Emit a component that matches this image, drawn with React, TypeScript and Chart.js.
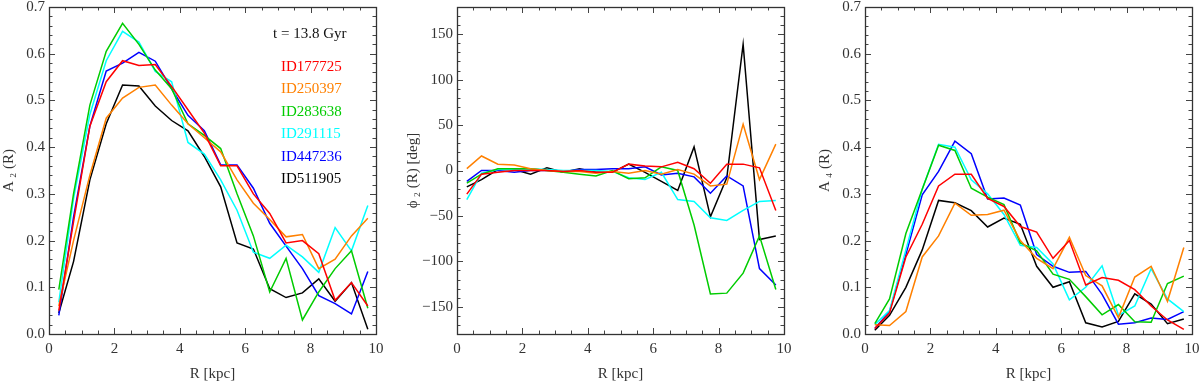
import React, { useEffect, useRef } from 'react';
import { Chart, registerables } from 'chart.js';

Chart.register(...registerables);

// ---------- data ----------
const radii = [0.3, 0.75, 1.25, 1.75, 2.25, 2.75, 3.25, 3.75, 4.25, 4.75, 5.25, 5.75, 6.25, 6.75, 7.25, 7.75, 8.25, 8.75, 9.25, 9.75];

const seriesLabels = ['ID177725', 'ID250397', 'ID283638', 'ID291115', 'ID447236', 'ID511905'];
const seriesColors = ['#ff0000', '#ff8000', '#00cc00', '#00ffff', '#0000ff', '#000000'];
const timeLabel = 't = 13.8 Gyr';

// A2(R)
const a2_177725 = [0.05, 0.24, 0.445, 0.54, 0.585, 0.575, 0.577, 0.53, 0.48, 0.43, 0.36, 0.36, 0.30, 0.258, 0.195, 0.20, 0.172, 0.072, 0.11, 0.06];
const a2_250397 = [0.06, 0.2, 0.34, 0.462, 0.505, 0.528, 0.533, 0.49, 0.45, 0.42, 0.39, 0.33, 0.28, 0.245, 0.208, 0.213, 0.14, 0.16, 0.21, 0.248];
const a2_283638 = [0.095, 0.3, 0.49, 0.605, 0.665, 0.62, 0.565, 0.525, 0.45, 0.425, 0.397, 0.30, 0.21, 0.09, 0.162, 0.03, 0.09, 0.14, 0.178, 0.055];
const a2_291115 = [0.068, 0.29, 0.47, 0.585, 0.648, 0.625, 0.562, 0.54, 0.41, 0.385, 0.33, 0.265, 0.175, 0.162, 0.19, 0.165, 0.132, 0.228, 0.178, 0.275];
const a2_447236 = [0.04, 0.25, 0.445, 0.563, 0.58, 0.603, 0.584, 0.525, 0.468, 0.435, 0.362, 0.362, 0.312, 0.237, 0.188, 0.14, 0.082, 0.065, 0.043, 0.134];
const a2_511905 = [0.045, 0.155, 0.33, 0.45, 0.533, 0.531, 0.488, 0.457, 0.435, 0.38, 0.315, 0.195, 0.182, 0.097, 0.078, 0.088, 0.118, 0.07, 0.11, 0.01];

// phi2(R) [deg]
const phi_177725 = [-26, -4, -2, 0, 0, 0, -1, 0, -2, -2, 7, 5, 4, 9, 2, -14, 7, 7, 3, -44];
const phi_250397 = [2, 16, 7, 6, 2, 0, -1, -1, -3, -1, -3, 0, -4, 1, -4, -17, -15, 51, -10, 29];
const phi_283638 = [-14, -4, 2, 2, 2, 0, -2, -4, -6, 0, -9, -8, 4, 0, -60, -136, -135, -113, -72, -131];
const phi_291115 = [-32, -3, 1, 1, 2, 1, 0, 0, 0, -1, -8, -10, -2, -32, -34, -52, -55, -44, -34, -33];
const phi_447236 = [-12, 0, 0, -2, 0, 0, -1, 1, 1, 2, 2, 4, -5, -3, -7, -25, -6, -17, -108, -126];
const phi_511905 = [-18, -10, 1, 1, -4, 3, -2, 2, -2, -2, 7, -2, -12, -22, 26, -51, -8, 139, -76, -72];

// A4(R)
const a4_177725 = [0.012, 0.045, 0.165, 0.235, 0.317, 0.342, 0.342, 0.29, 0.273, 0.23, 0.218, 0.162, 0.2, 0.105, 0.121, 0.115, 0.095, 0.06, 0.03, 0.01];
const a4_250397 = [0.02, 0.018, 0.048, 0.165, 0.21, 0.28, 0.254, 0.256, 0.265, 0.2, 0.162, 0.14, 0.207, 0.125, 0.103, 0.035, 0.122, 0.145, 0.07, 0.185];
const a4_283638 = [0.022, 0.075, 0.215, 0.31, 0.404, 0.393, 0.312, 0.293, 0.277, 0.195, 0.178, 0.128, 0.117, 0.08, 0.041, 0.063, 0.026, 0.025, 0.108, 0.124];
const a4_291115 = [0.02, 0.05, 0.18, 0.31, 0.406, 0.4, 0.33, 0.3, 0.256, 0.19, 0.185, 0.15, 0.073, 0.1, 0.146, 0.04, 0.06, 0.14, 0.075, 0.048];
const a4_447236 = [0.012, 0.048, 0.17, 0.298, 0.348, 0.413, 0.386, 0.289, 0.291, 0.276, 0.17, 0.145, 0.132, 0.134, 0.085, 0.021, 0.024, 0.034, 0.031, 0.048];
const a4_511905 = [0.008, 0.04, 0.1, 0.18, 0.286, 0.281, 0.264, 0.229, 0.248, 0.235, 0.145, 0.1, 0.112, 0.024, 0.015, 0.027, 0.086, 0.064, 0.022, 0.032];

// ticks
const xTickValues = [0, 2, 4, 6, 8, 10];
const aTickValues = [0, 0.1, 0.2, 0.3, 0.4, 0.5, 0.6, 0.7];
const phiTickValues = [-150, -100, -50, 0, 50, 100, 150];

const FONT = '"Liberation Serif", "Times New Roman", serif';

type PanelSpec = {
  series: number[][];
  yTitle: string;
  yMin: number;
  yMax: number;
  yTicks: number[];
  yFormat: (v: number) => string;
  yMinorStep: number;
  yMajorStep: number;
  leftWidth: number;
  rightPad: number;
  yTitlePad: number;
  legend: boolean;
};

const fmtA = (v: number) => v.toFixed(1);
const fmtPhi = (v: number) => (v < 0 ? '\u2212' + Math.abs(v) : String(v));

const panels: PanelSpec[] = [
  {
    series: [a2_177725, a2_250397, a2_283638, a2_291115, a2_447236, a2_511905],
    yTitle: 'A\u2009\u2082 (R)', yMin: 0, yMax: 0.7, yTicks: aTickValues, yFormat: fmtA,
    yMinorStep: 0.02, yMajorStep: 0.1, leftWidth: 49, rightPad: 24, yTitlePad: 0, legend: true,
  },
  {
    series: [phi_177725, phi_250397, phi_283638, phi_291115, phi_447236, phi_511905],
    yTitle: '\u03D5\u2009\u2082 (R) [deg]', yMin: -180, yMax: 180, yTicks: phiTickValues, yFormat: fmtPhi,
    yMinorStep: 10, yMajorStep: 50, leftWidth: 57, rightPad: 16, yTitlePad: 4, legend: false,
  },
  {
    series: [a4_177725, a4_250397, a4_283638, a4_291115, a4_447236, a4_511905],
    yTitle: 'A\u2009\u2084 (R)', yMin: 0, yMax: 0.7, yTicks: aTickValues, yFormat: fmtA,
    yMinorStep: 0.02, yMajorStep: 0.1, leftWidth: 65, rightPad: 8, yTitlePad: 16, legend: false,
  },
];

function makeFramePlugin(spec: PanelSpec) {
  return {
    id: 'frameTicks',
    afterDatasetsDraw(chart: any) {
      const { ctx, chartArea: ca, scales } = chart;
      const xs = scales.x;
      const ys = scales.y;
      ctx.save();
      ctx.strokeStyle = '#444';
      ctx.lineWidth = 1;
      ctx.beginPath();
      // x ticks (minor every 0.5, major every 2)
      for (let i = 0; i <= 20; i++) {
        const v = i * 0.5;
        const px = Math.round(xs.getPixelForValue(v)) + 0.5;
        const len = i % 4 === 0 ? 6 : 3.5;
        ctx.moveTo(px, ca.bottom);
        ctx.lineTo(px, ca.bottom - len);
        ctx.moveTo(px, ca.top);
        ctx.lineTo(px, ca.top + len);
      }
      const nMinor = Math.round((spec.yMax - spec.yMin) / spec.yMinorStep);
      for (let i = 0; i <= nMinor; i++) {
        const v = spec.yMin + i * spec.yMinorStep;
        const py = Math.round(ys.getPixelForValue(v)) + 0.5;
        const ratio = v / spec.yMajorStep;
        const isMajor = Math.abs(ratio - Math.round(ratio)) < 1e-6;
        const len = isMajor ? 6 : 3.5;
        ctx.moveTo(ca.left, py);
        ctx.lineTo(ca.left + len, py);
        ctx.moveTo(ca.right, py);
        ctx.lineTo(ca.right - len, py);
      }
      ctx.stroke();
      ctx.lineWidth = 1.3;
      ctx.strokeStyle = '#333';
      ctx.strokeRect(Math.round(ca.left) + 0.5, Math.round(ca.top) + 0.5, Math.round(ca.right - ca.left), Math.round(ca.bottom - ca.top));
      if (spec.legend) {
        ctx.font = '15px ' + FONT;
        ctx.textAlign = 'left';
        ctx.textBaseline = 'middle';
        ctx.fillStyle = '#111';
        ctx.fillText(timeLabel, ca.left + 224, ca.top + 27);
        seriesLabels.forEach((lab, i) => {
          ctx.fillStyle = seriesColors[i];
          ctx.fillText(lab, ca.left + 232, ca.top + 60 + i * 22.4);
        });
      }
      ctx.restore();
    },
  };
}

function Panel({ spec }: { spec: PanelSpec }) {
  const ref = useRef<HTMLCanvasElement | null>(null);
  useEffect(() => {
    if (!ref.current) return;
    const datasets = spec.series.map((vals, i) => ({
      label: seriesLabels[i],
      data: vals.map((v, j) => ({ x: radii[j], y: v })),
      borderColor: seriesColors[i],
      backgroundColor: seriesColors[i],
      borderWidth: 1.5,
      pointRadius: 0,
      tension: 0,
      fill: false,
    }));
    const chart = new Chart(ref.current, {
      type: 'line',
      data: { datasets },
      plugins: [makeFramePlugin(spec)],
      options: {
        animation: false,
        responsive: false,
        devicePixelRatio: 1,
        layout: { padding: { left: 0, right: spec.rightPad, top: 7, bottom: 0 } },
        plugins: { legend: { display: false }, tooltip: { enabled: false } },
        scales: {
          x: {
            type: 'linear',
            min: 0,
            max: 10,
            grid: { display: false, drawTicks: false },
            border: { display: false },
            afterBuildTicks: (s: any) => { s.ticks = xTickValues.map((v) => ({ value: v })); },
            afterFit: (s: any) => { s.height = 49; s.paddingLeft = 0; s.paddingRight = 0; },
            ticks: {
              padding: 6,
              maxRotation: 0,
              color: '#333',
              font: { family: FONT, size: 15 },
              callback: (v: any) => String(v),
            },
            title: {
              display: true,
              text: 'R [kpc]',
              color: '#333',
              font: { family: FONT, size: 15 },
              padding: { top: 0, bottom: 0 },
            },
          },
          y: {
            type: 'linear',
            min: spec.yMin,
            max: spec.yMax,
            grid: { display: false, drawTicks: false },
            border: { display: false },
            afterBuildTicks: (s: any) => { s.ticks = spec.yTicks.map((v) => ({ value: v })); },
            afterFit: (s: any) => { s.width = spec.leftWidth; s.paddingTop = 0; s.paddingBottom = 0; },
            ticks: {
              padding: 4,
              color: '#333',
              font: { family: FONT, size: 15 },
              callback: (v: any) => spec.yFormat(Number(v)),
            },
            title: {
              display: true,
              text: spec.yTitle,
              color: '#333',
              font: { family: FONT, size: 15 },
              padding: { top: spec.yTitlePad, bottom: 0 },
            },
          },
        },
      },
    } as any);
    return () => chart.destroy();
  }, [spec]);
  return <canvas ref={ref} width={400} height={383} style={{ display: 'block', width: 400, height: 383 }} />;
}

export default function App() {
  useEffect(() => {
    document.body.style.margin = '0';
    document.body.style.background = '#fff';
  }, []);
  return (
    <div style={{ display: 'flex', flexDirection: 'row', width: 1200, height: 383, background: '#fff' }}>
      {panels.map((p, i) => (
        <Panel key={i} spec={p} />
      ))}
    </div>
  );
}
